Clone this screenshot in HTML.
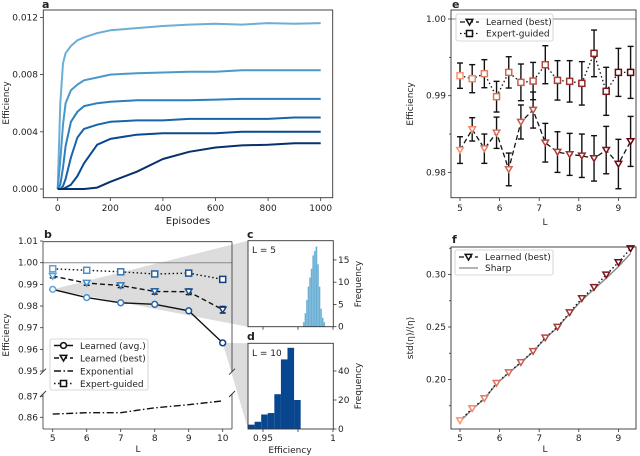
<!DOCTYPE html>
<html><head><meta charset="utf-8"><style>
html,body{margin:0;padding:0;background:#fff;width:640px;height:456px;overflow:hidden}
svg{display:block;font-family:"DejaVu Sans","Liberation Sans",sans-serif}
text{fill:#222}
</style></head><body>
<svg id="fig" width="640" height="456" viewBox="0 0 640 456">
<g id="shade"></g>
<g id="marks"></g>
<g id="frames"></g>
<g font-size="10">
<text x="42" y="8" font-weight="bold" font-size="11">a</text>
<text x="188" y="224" text-anchor="middle">Episodes</text>
<text transform="translate(9,103) rotate(-90)" text-anchor="middle" font-size="9">Efficiency</text>
<text x="44" y="238" font-weight="bold" font-size="11">b</text>
<text x="138" y="452" text-anchor="middle" font-size="9">L</text>
<text transform="translate(9,335) rotate(-90)" text-anchor="middle" font-size="9">Efficiency</text>
<text x="247" y="238" font-weight="bold" font-size="11">c</text>
<text x="252" y="253" font-size="9">L = 5</text>
<text transform="translate(361,284) rotate(-90)" text-anchor="middle" font-size="9">Frequency</text>
<text x="247" y="340" font-weight="bold" font-size="11">d</text>
<text x="252" y="356" font-size="9">L = 10</text>
<text transform="translate(361,386) rotate(-90)" text-anchor="middle" font-size="9">Frequency</text>
<text x="290" y="453" text-anchor="middle" font-size="9">Efficiency</text>
<text x="452" y="8" font-weight="bold" font-size="11">e</text>
<text x="545" y="225" text-anchor="middle" font-size="9">L</text>
<text transform="translate(413,104) rotate(-90)" text-anchor="middle" font-size="9">Efficiency</text>
<text x="452" y="243" font-weight="bold" font-size="11">f</text>
<text x="545" y="452" text-anchor="middle" font-size="9">L</text>
<text transform="translate(413,338) rotate(-90)" text-anchor="middle" font-size="9">std(η)/⟨η⟩</text>
</g>
<g id="legends"></g>
</svg>
<script>
// ---- panel a data ----
const aEpisodes=[0,10,20,30,50,75,100,150,200,300,400,500,600,700,800,900,1000];
const aCurve1=[0,0.006,0.0088,0.0095,0.0100,0.0104,0.0106,0.0109,0.0111,0.01125,0.0114,0.0115,0.01155,0.0115,0.0116,0.01155,0.0116];
const aCurve2=[0,0.002,0.0045,0.0060,0.0069,0.0073,0.0076,0.0078,0.0080,0.0081,0.00815,0.0082,0.0082,0.0083,0.0083,0.0083,0.0083];
const aCurve3=[0,0.0003,0.0015,0.003,0.0047,0.0054,0.0058,0.0060,0.0061,0.0062,0.0062,0.0062,0.00625,0.0063,0.0063,0.0063,0.0063];
const aCurve4=[0,0,0.0002,0.0007,0.0022,0.0036,0.0042,0.0045,0.0047,0.0048,0.0048,0.0049,0.0049,0.0049,0.0049,0.0050,0.0050];
const aCurve5=[0,0,0,0.0001,0.0003,0.0009,0.0018,0.0031,0.0035,0.0038,0.0039,0.0039,0.0039,0.0040,0.0040,0.0040,0.0040];
const aCurve6=[0,0,0,0,0,0,0,0.0001,0.0005,0.0012,0.0021,0.0026,0.0029,0.00305,0.0031,0.0032,0.0032];
const aXTicks=[0,200,400,600,800,1000];
const aYTicks=[0,0.004,0.008,0.012];
const aYTickLabels=["0.000","0.004","0.008","0.012"];
// ---- panel b data ----
const bL=[5,6,7,8,9,10];
const bAvg=[0.9877,0.9839,0.9815,0.9808,0.9778,0.9630];
const bBest=[0.9938,0.9906,0.9895,0.9867,0.9866,0.9783];
const bBestErr=[0.0008,0.0010,0.0010,0.0012,0.0013,0.0015];
const bExpert=[0.9972,0.9965,0.9958,0.9948,0.9952,0.9923];
const bExpertErr=[0.0006,0.0008,0.0008,0.0010,0.0010,0.0012];
const bExponential=[0.8615,0.8622,0.8622,0.8645,0.8660,0.8678];
const bUpperTicks=[1.01,1.00,0.99,0.98,0.97,0.96,0.95];
const bUpperLabels=["1.01","1.00","0.99","0.98","0.97","0.96","0.95"];
const bLowerTicks=[0.87,0.86];
const bLowerLabels=["0.87","0.86"];
// ---- panel c/d data ----
const cStart=0.9786, cWidth=0.00112;
const cCounts=[1,3,6,9,11,13,16,17,18,14,9,4,2,1];
const cYTicks=[0,5,10,15];
const dStart=0.9393, dWidth=0.0047;
const dCounts=[3,5,10,11,24,48,56,20];
const dYTicks=[0,20,40];
const cdXTicks=[0.95,0.975,1.0];
const cdXLabels=["0.95","","1"];
// ---- panel e data ----
const eL=[5,5.308,5.615,5.923,6.231,6.538,6.846,7.154,7.462,7.769,8.077,8.385,8.692,9.0,9.308];
const eExpert=[0.99261,0.99222,0.99287,0.98987,0.99304,0.99174,0.99191,0.99404,0.99200,0.99187,0.99161,0.99552,0.99057,0.99304,0.99304];
const eExpertErr=[0.00165,0.00183,0.00183,0.00200,0.00204,0.00239,0.00243,0.00248,0.00257,0.00270,0.00283,0.00304,0.00313,0.00313,0.00339];
const eBest=[0.98291,0.98561,0.98309,0.98517,0.98039,0.98657,0.98813,0.98387,0.98265,0.98235,0.98217,0.98183,0.98291,0.98109,0.98404];
const eBestErr=[0.00174,0.00152,0.00191,0.00204,0.00213,0.00222,0.00235,0.00252,0.00265,0.00274,0.00283,0.00296,0.00309,0.00322,0.00326];
const eYTicks=[1.00,0.99,0.98];
const eYLabels=["1.00","0.99","0.98"];
const eXTicks=[5,6,7,8,9];
// ---- panel f data ----
const fBest=[0.1609,0.1724,0.1820,0.1965,0.2067,0.2163,0.2269,0.2397,0.2500,0.2638,0.2772,0.2878,0.2997,0.3115,0.3247];
const fSharp=[0.1600,0.1715,0.1815,0.1960,0.2062,0.2160,0.2265,0.2392,0.2495,0.2628,0.2755,0.2860,0.2965,0.3075,0.3200];
const fYTicks=[0.20,0.25,0.30];
const fYLabels=["0.20","0.25","0.30"];

const NS="http://www.w3.org/2000/svg";
function mk(tag,attrs,name,parent){
  const e=document.createElementNS(NS,tag);
  for(const k in attrs)e.setAttribute(k,attrs[k]);
  
  
  parent.appendChild(e);return e;
}
const marks=document.getElementById('marks'),frames=document.getElementById('frames'),shade=document.getElementById('shade'),leg=document.getElementById('legends');
function txt(x,y,s,anchor,name,size){const t=mk('text',{x:x,y:y,'text-anchor':anchor||'middle','font-size':size||9},name,frames);t.textContent=s;return t;}
function box(x1,y1,x2,y2,name){mk('rect',{x:x1,y:y1,width:x2-x1,height:y2-y1,fill:'none',stroke:'#333','stroke-width':0.9},name,frames);}
function tick(x1,y1,x2,y2,name){mk('line',{x1:x1,y1:y1,x2:x2,y2:y2,stroke:'#333','stroke-width':0.8},name,frames);}
function poly(pts,attrs,name,parent){return mk('polyline',Object.assign({points:pts.map(p=>p[0].toFixed(1)+','+p[1].toFixed(1)).join(' '),fill:'none'},attrs),name,parent||marks);}
function tri(x,y,col,name,parent){const s=3.3;return mk('polygon',{points:`${x-s},${y-s*0.8} ${x+s},${y-s*0.8} ${x},${y+s*0.9}`,fill:'#fff',stroke:col,'stroke-width':1.5},name,parent||marks);}
function sq(x,y,col,name,parent){return mk('rect',{x:x-3,y:y-3,width:6,height:6,fill:'#fff',stroke:col,'stroke-width':1.5},name,parent||marks);}
function circ(x,y,col,name,parent){return mk('circle',{cx:x,cy:y,r:2.9,fill:'#fff',stroke:col,'stroke-width':1.5},name,parent||marks);}
function errbar(x,y1,y2,name){mk('line',{x1:x,y1:y1,x2:x,y2:y2,stroke:'#111','stroke-width':1.4},name,marks);
  mk('line',{x1:x-3,y1:y1,x2:x+3,y2:y1,stroke:'#111','stroke-width':1.4},name+'-cap',marks);
  mk('line',{x1:x-3,y1:y2,x2:x+3,y2:y2,stroke:'#111','stroke-width':1.4},name+'-cap',marks);}

// ===== panel a =====
const ax=e=>57.7+e*0.263, ay=v=>189-v*14300;
const aCurves=[aCurve1,aCurve2,aCurve3,aCurve4,aCurve5,aCurve6];
const aCols=['#6baed6','#4a98c9','#2e7ebc','#1764ab','#084a91','#08306b'];
aCurves.forEach((c,i)=>{poly(aEpisodes.map((e,j)=>[ax(e),ay(c[j])]),{stroke:aCols[i],'stroke-width':2,'stroke-linejoin':'round'},'a-curve-'+(i+1));});
box(43.3,10,332.7,197.7,'a-axes-frame');
aXTicks.forEach(t=>{tick(ax(t),197.7,ax(t),201,'a-x-tick');txt(ax(t),211,String(t),'middle','a-x-tick-label',9);});
aYTicks.forEach((t,i)=>{tick(40,ay(t),43.3,ay(t),'a-y-tick');txt(38,ay(t)+3,aYTickLabels[i],'end','a-y-tick-label',9);});

// ===== shading =====
const bx=L=>52.7+(L-5)*34, byU=v=>262.7-(v-1.0)*2167, byL=v=>417.3-(v-0.86)*2100;
mk('polygon',{points:`${bx(bL[0])},${byU(bAvg[0])} 248,240.7 248,326.7`,fill:'#dcdcdc'},'zoom-shade-c',shade);
mk('polygon',{points:`${bx(bL[5])},${byU(bAvg[5])} 248,343.3 248,429`,fill:'#dcdcdc'},'zoom-shade-d',shade);

// ===== panel b =====
const bCols=['#5ba3d9','#4a90cc','#3678ba','#2563a8','#175096','#0b4088'];
mk('line',{x1:43,y1:byU(1.0),x2:232,y2:byU(1.0),stroke:'#888','stroke-width':1},'b-reference-line',marks);
poly(bL.map((L,i)=>[bx(L),byU(bAvg[i])]),{stroke:'#111','stroke-width':1.4},'b-avg-line');
poly(bL.map((L,i)=>[bx(L),byU(bBest[i])]),{stroke:'#111','stroke-width':1.4,'stroke-dasharray':'5,3'},'b-best-line');
poly(bL.map((L,i)=>[bx(L),byU(bExpert[i])]),{stroke:'#111','stroke-width':1.4,'stroke-dasharray':'1.5,2.5'},'b-expert-line');
poly(bL.map((L,i)=>[bx(L),byL(bExponential[i])]),{stroke:'#111','stroke-width':1.4,'stroke-dasharray':'7,2.5,1.5,2.5'},'b-exponential-line');
bL.forEach((L,i)=>{
  errbar(bx(L),byU(bBest[i]+bBestErr[i]),byU(bBest[i]-bBestErr[i]),'b-best-errorbar');
  errbar(bx(L),byU(bExpert[i]+bExpertErr[i]),byU(bExpert[i]-bExpertErr[i]),'b-expert-errorbar');
  circ(bx(L),byU(bAvg[i]),bCols[i],'b-avg-point');
  tri(bx(L),byU(bBest[i]),bCols[i],'b-best-point');
  sq(bx(L),byU(bExpert[i]),bCols[i],'b-expert-point');
});
[[43,241.7,43,371.7],[232,241.7,232,371.7],[43,241.7,232,241.7],[43,394,43,429],[232,394,232,429],[43,429,232,429]].forEach(s=>tick(s[0],s[1],s[2],s[3],'b-axes-spine'));
[[43,371.7],[232,371.7],[43,394],[232,394]].forEach(p=>mk('line',{x1:p[0]-3,y1:p[1]+3,x2:p[0]+3,y2:p[1]-3,stroke:'#333','stroke-width':0.9},'b-axis-break-mark',frames));
bUpperTicks.forEach((t,i)=>{tick(40,byU(t),43,byU(t),'b-y-tick');txt(38,byU(t)+3,bUpperLabels[i],'end','b-y-tick-label',9);});
bLowerTicks.forEach((t,i)=>{tick(40,byL(t),43,byL(t),'b-y-tick');txt(38,byL(t)+3,bLowerLabels[i],'end','b-y-tick-label',9);});
bL.forEach(L=>{tick(bx(L),429,bx(L),432,'b-x-tick');txt(bx(L),441,String(L),'middle','b-x-tick-label',9);});
mk('rect',{x:50,y:339,width:98,height:51,fill:'#fff',stroke:'#ccc','stroke-width':0.8,rx:2},'b-legend-box',leg);
const bLegY=[345.5,358,371,383.5],bLegNames=['Learned (avg.)','Learned (best)','Exponential','Expert-guided'];
const bLegDash=['','5,3','7,2.5,1.5,2.5','1.5,2.5'];
bLegY.forEach((y,i)=>{
  mk('line',{x1:54,y1:y,x2:73,y2:y,stroke:'#111','stroke-width':1.4,'stroke-dasharray':bLegDash[i]||'none'},'b-legend-line',leg);
  if(i===0)circ(63.5,y,'#111','b-legend-marker',leg);
  if(i===1)tri(63.5,y,'#111','b-legend-marker',leg);
  if(i===3)sq(63.5,y,'#111','b-legend-marker',leg);
  const t=mk('text',{x:80,y:y+3.3,'font-size':9},'b-legend-label',leg);t.textContent=bLegNames[i];
});

// ===== panel c/d =====
const hx=v=>263+(v-0.95)*1400, cy=n=>326.7-n*4.45, dy=n=>429-n*1.45;
cCounts.forEach((n,i)=>{const x1=hx(cStart+i*cWidth),x2=hx(cStart+(i+1)*cWidth);
  mk('rect',{x:x1,y:cy(n),width:x2-x1,height:326.7-cy(n),fill:'#6baed6',stroke:'#9ecae1','stroke-width':0.3},'c-histogram-bar',marks);});
dCounts.forEach((n,i)=>{const x1=hx(dStart+i*dWidth),x2=hx(dStart+(i+1)*dWidth);
  mk('rect',{x:Math.max(248,x1),y:dy(n),width:x2-Math.max(248,x1),height:429-dy(n),fill:'#08468f'},'d-histogram-bar',marks);});
box(248,240.7,333.3,326.7,'c-axes-frame');box(248,343.3,333.3,429,'d-axes-frame');
cYTicks.forEach(t=>{tick(333.3,cy(t),336.5,cy(t),'c-y-tick');txt(338,cy(t)+3,String(t),'start','c-y-tick-label',9);});
dYTicks.forEach(t=>{tick(333.3,dy(t),336.5,dy(t),'d-y-tick');txt(338,dy(t)+3,String(t),'start','d-y-tick-label',9);});
cdXTicks.forEach((t,i)=>{tick(hx(t),326.7,hx(t),329.7,'c-x-tick');tick(hx(t),429,hx(t),432,'d-x-tick');
  if(cdXLabels[i])txt(hx(t),441,cdXLabels[i],'middle','d-x-tick-label',9);});

// ===== panel e =====
const ex=L=>460+(L-5)*39.6, ey=v=>19+(1-v)*7670;
const redCols=eL.map((L,i)=>{const t=i/(eL.length-1);const c0=[252,146,114],c1=[103,0,13];
  return 'rgb('+c0.map((c,k)=>Math.round(c+(c1[k]-c)*t)).join(',')+')';});
mk('line',{x1:451,y1:ey(1.0),x2:636,y2:ey(1.0),stroke:'#888','stroke-width':1},'e-reference-line',marks);
poly(eL.map((L,i)=>[ex(L),ey(eExpert[i])]),{stroke:'#111','stroke-width':1.3,'stroke-dasharray':'1.5,2.5'},'e-expert-line');
poly(eL.map((L,i)=>[ex(L),ey(eBest[i])]),{stroke:'#111','stroke-width':1.3,'stroke-dasharray':'5,3'},'e-best-line');
eL.forEach((L,i)=>{
  errbar(ex(L),ey(eExpert[i]+eExpertErr[i]),ey(eExpert[i]-eExpertErr[i]),'e-expert-errorbar');
  errbar(ex(L),ey(eBest[i]+eBestErr[i]),ey(eBest[i]-eBestErr[i]),'e-best-errorbar');
  sq(ex(L),ey(eExpert[i]),redCols[i],'e-expert-point');
  tri(ex(L),ey(eBest[i]),redCols[i],'e-best-point');
});
box(451,10,636,197.7,'e-axes-frame');
eYTicks.forEach((t,i)=>{tick(448,ey(t),451,ey(t),'e-y-tick');txt(446,ey(t)+3,eYLabels[i],'end','e-y-tick-label',9);});
[0.995,0.985].forEach(t=>tick(449,ey(t),451,ey(t),'e-y-minor-tick'));
eXTicks.forEach(t=>{tick(ex(t),197.7,ex(t),201,'e-x-tick');txt(ex(t),211,String(t),'middle','e-x-tick-label',9);});
mk('rect',{x:456,y:14,width:97,height:27,fill:'#fff','fill-opacity':0.85,stroke:'#ccc','stroke-width':0.8,rx:2},'e-legend-box',leg);
mk('line',{x1:460,y1:22,x2:479,y2:22,stroke:'#111','stroke-width':1.3,'stroke-dasharray':'5,3'},'e-legend-line',leg);
tri(469.5,22,'#111','e-legend-marker',leg);
mk('line',{x1:460,y1:33.5,x2:479,y2:33.5,stroke:'#111','stroke-width':1.3,'stroke-dasharray':'1.5,2.5'},'e-legend-line',leg);
sq(469.5,33.5,'#111','e-legend-marker',leg);
let t1=mk('text',{x:486,y:25,'font-size':9},'e-legend-label',leg);t1.textContent='Learned (best)';
let t2=mk('text',{x:486,y:36.5,'font-size':9},'e-legend-label',leg);t2.textContent='Expert-guided';

// ===== panel f =====
const fy=v=>327-(v-0.25)*1050;
poly(eL.map((L,i)=>[ex(L),fy(fSharp[i])]),{stroke:'#888','stroke-width':1.4},'f-sharp-line');
poly(eL.map((L,i)=>[ex(L),fy(fBest[i])]),{stroke:'#111','stroke-width':1.4,'stroke-dasharray':'1.5,2.5'},'f-best-line');
eL.forEach((L,i)=>tri(ex(L),fy(fBest[i]),redCols[i],'f-best-point'));
box(451,247,636,429,'f-axes-frame');
fYTicks.forEach((t,i)=>{tick(448,fy(t),451,fy(t),'f-y-tick');txt(446,fy(t)+3,fYLabels[i],'end','f-y-tick-label',9);});
[0.175,0.225,0.275,0.325].forEach(t=>tick(449,fy(t),451,fy(t),'f-y-minor-tick'));
eXTicks.forEach(t=>{tick(ex(t),429,ex(t),432,'f-x-tick');txt(ex(t),441,String(t),'middle','f-x-tick-label',9);});
mk('rect',{x:455,y:250,width:98,height:25,fill:'#fff',stroke:'#ccc','stroke-width':0.8,rx:2},'f-legend-box',leg);
mk('line',{x1:459,y1:257,x2:478,y2:257,stroke:'#111','stroke-width':1.3,'stroke-dasharray':'5,3'},'f-legend-line',leg);
tri(468.5,257,'#111','f-legend-marker',leg);
mk('line',{x1:459,y1:268,x2:478,y2:268,stroke:'#888','stroke-width':1.3},'f-legend-line',leg);
let t3=mk('text',{x:485,y:260,'font-size':9},'f-legend-label',leg);t3.textContent='Learned (best)';
let t4=mk('text',{x:485,y:271,'font-size':9},'f-legend-label',leg);t4.textContent='Sharp';
</script>
</body></html>
